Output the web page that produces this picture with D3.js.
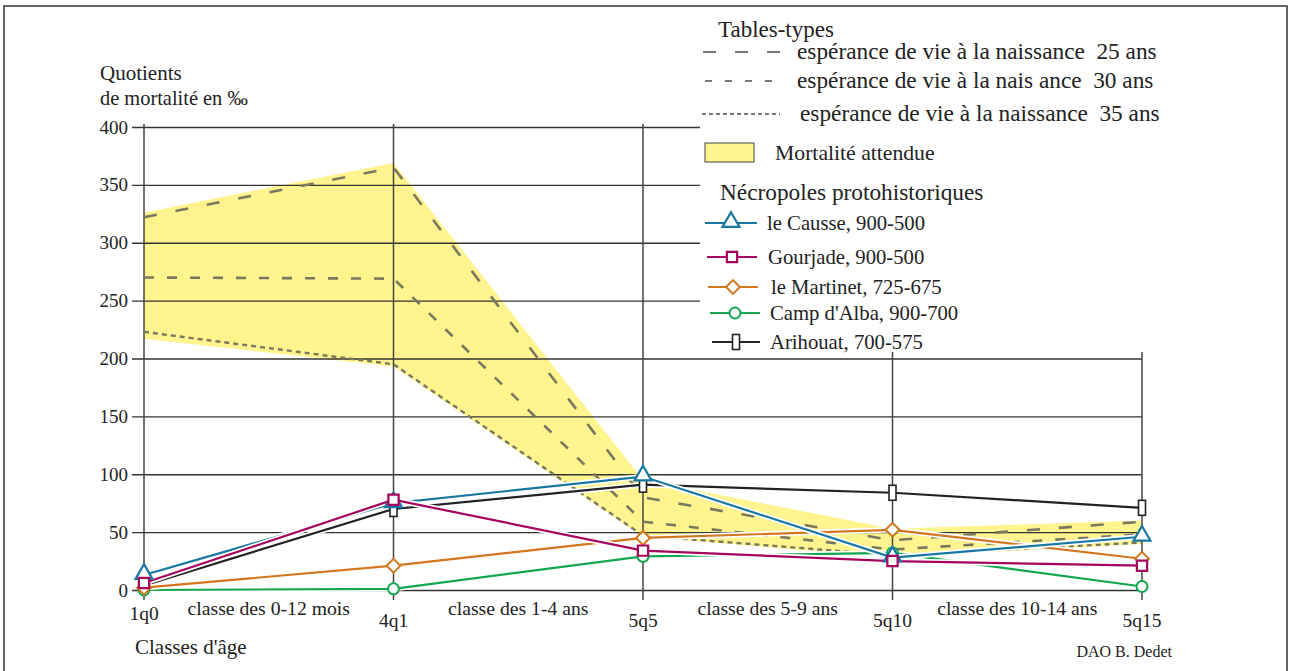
<!DOCTYPE html>
<html>
<head>
<meta charset="utf-8">
<script src="https://cdn.jsdelivr.net/npm/d3@7"></script>
<style>
  html, body { margin: 0; padding: 0; background: #fff; }
  svg { display: block; }
  text { font-family: "Liberation Serif", "Times New Roman", serif; fill: #222; white-space: pre; }
</style>
</head>
<body>
<svg id="chart" width="1290" height="671"></svg>
<script>
// ---------- data ----------
const categories = ["1q0", "4q1", "5q5", "5q10", "5q15"];
const classLabels = ["classe des 0-12 mois", "classe des 1-4 ans", "classe des 5-9 ans", "classe des 10-14 ans"];
const yTicks = [0, 50, 100, 150, 200, 250, 300, 350, 400];

const bandUpper = [326, 369, 95, 53, 60];
const bandLower = [217, 193, 46, 28, 40];

const esp25 = [322, 365, 80, 43, 59];
const esp30 = [270, 269, 59, 35, 48];
const esp35 = [223, 195, 47, 30, 41];

const causse   = [13, 75, 98, 28, 46];
const gourjade = [6, 78, 34, 25, 21];
const martinet = [2, 21, 45, 52, 27];
const alba     = [0, 1, 29, 32, 3];
const arihouat = [4, 70, 91, 84, 71];

const tableNames = ["espérance de vie à la naissance  25 ans", "espérance de vie à la nais ance  30 ans", "espérance de vie à la naissance  35 ans"];
const seriesNames = ["le Causse, 900-500", "Gourjade, 900-500", "le Martinet, 725-675", "Camp d'Alba, 900-700", "Arihouat, 700-575"];

// ---------- setup ----------
const svg = d3.select("#chart");
const x = d3.scalePoint().domain(categories).range([144, 1142]);
const y = d3.scaleLinear().domain([0, 400]).range([590, 127]);

const gridColor = "#333";
const tableColor = "#7a785f";
const yellow = "#fff48e";

// frame
svg.append("rect").attr("x", 4).attr("y", 6).attr("width", 1283).attr("height", 700)
  .attr("fill", "#fff").attr("stroke", "#333").attr("stroke-width", 1.5);

// band
const bandData = categories.map((c, i) => ({ c, lo: bandLower[i], hi: bandUpper[i] }));
svg.append("path").datum(bandData)
  .attr("d", d3.area().x(d => x(d.c)).y0(d => y(d.lo)).y1(d => y(d.hi)))
  .attr("fill", yellow);

// horizontal grid + tick labels
const yAxis = d3.axisLeft(y).tickValues(yTicks).tickSize(-(1142 - 132)).tickPadding(4).tickFormat(d3.format("d"));
const gy = svg.append("g").attr("transform", "translate(132,0)").call(yAxis);
gy.attr("font-family", null);
gy.select(".domain").remove();
gy.selectAll(".tick line").attr("stroke", gridColor).attr("stroke-width", 1.3);
gy.selectAll(".tick text").attr("font-size", 19).attr("font-family", "Liberation Serif").attr("fill", "#222");

// vertical lines
svg.append("g").selectAll("line").data(categories).join("line")
  .attr("x1", d => x(d)).attr("x2", d => x(d))
  .attr("y1", y(400) - 3).attr("y2", y(0) + 10)
  .attr("stroke", "#444").attr("stroke-width", 1.5);

// table-type lines
const lineGen = d3.line().x((d, i) => x(categories[i])).y(d => y(d));
const tables = [
  { data: esp25, dash: "13,19", w: 2.6, legDash: "13,19" },
  { data: esp30, dash: "10,13", w: 2.6, legDash: "7,13" },
  { data: esp35, dash: "5,4", w: 2.4, legDash: "4,3" }
];
tables.forEach(t => {
  svg.append("path").datum(t.data).attr("d", lineGen)
    .attr("fill", "none").attr("stroke", tableColor).attr("stroke-width", t.w)
    .attr("stroke-dasharray", t.dash);
});

// series
const series = [
  { data: arihouat, color: "#222222", marker: "rect" },
  { data: alba, color: "#12a650", marker: "circle" },
  { data: martinet, color: "#d3761e", marker: "diamond" },
  { data: causse, color: "#1878a2", marker: "triangle" },
  { data: gourjade, color: "#a6045c", marker: "square" }
];

function drawMarker(g, type, cx, cy, color) {
  if (type === "rect") {
    g.append("rect").attr("x", cx - 3.5).attr("y", cy - 7.5).attr("width", 7).attr("height", 15)
      .attr("fill", "#fff").attr("stroke", color).attr("stroke-width", 1.6);
  } else if (type === "circle") {
    g.append("circle").attr("cx", cx).attr("cy", cy).attr("r", 5.5)
      .attr("fill", "#fff").attr("stroke", color).attr("stroke-width", 2);
  } else if (type === "diamond") {
    g.append("path").attr("d", d3.symbol(d3.symbolSquare, 95)())
      .attr("transform", `translate(${cx},${cy}) rotate(45)`)
      .attr("fill", "#fff").attr("stroke", color).attr("stroke-width", 2);
  } else if (type === "triangle") {
    g.append("path").attr("d", d3.symbol(d3.symbolTriangle, 125)())
      .attr("transform", `translate(${cx},${cy - 1})`)
      .attr("fill", "#fff").attr("stroke", color).attr("stroke-width", 2.2);
  } else if (type === "square") {
    g.append("path").attr("d", d3.symbol(d3.symbolSquare, 105)())
      .attr("transform", `translate(${cx},${cy})`)
      .attr("fill", "#fff").attr("stroke", color).attr("stroke-width", 2.2);
  }
}

series.forEach(s => {
  svg.append("path").datum(s.data).attr("d", lineGen)
    .attr("fill", "none").attr("stroke", "#fff").attr("stroke-width", 5.5);
  svg.append("path").datum(s.data).attr("d", lineGen)
    .attr("fill", "none").attr("stroke", s.color).attr("stroke-width", 2.2);
});
series.forEach(s => {
  const g = svg.append("g");
  s.data.forEach((v, i) => drawMarker(g, s.marker, x(categories[i]), y(v), s.color));
});

// legend background
svg.append("rect").attr("x", 700).attr("y", 10).attr("width", 450).attr("height", 342).attr("fill", "#fff");

// helper for text
function label(tx, ty, str, size, anchor) {
  return svg.append("text").attr("x", tx).attr("y", ty).attr("font-size", size)
    .attr("text-anchor", anchor || "start").text(str);
}

// axis labels
svg.append("g").selectAll("text").data(categories).join("text")
  .attr("x", d => x(d)).attr("y", (d, i) => i === 0 ? 620 : 627)
  .attr("text-anchor", "middle").attr("font-size", 19.5).text(d => d);

svg.append("g").selectAll("text").data(classLabels).join("text")
  .attr("x", (d, i) => (x(categories[i]) + x(categories[i + 1])) / 2).attr("y", 615)
  .attr("text-anchor", "middle").attr("font-size", 19.7).text(d => d);

label(135, 654, "Classes d'âge", 21);
label(100, 80, "Quotients", 21);
label(100, 105, "de mortalité en ‰", 20.4);
label(1172, 657, "DAO B. Dedet", 16, "end");

// legend
label(718, 37, "Tables-types", 23);
const tableLeg = [
  { y: 52, tx: 797, x1: 703, x2: 780 },
  { y: 81, tx: 797, x1: 705, x2: 772 },
  { y: 114, tx: 800, x1: 702, x2: 780 }
];
tables.forEach((t, i) => {
  const L = tableLeg[i];
  svg.append("line").attr("x1", L.x1).attr("x2", L.x2).attr("y1", L.y).attr("y2", L.y)
    .attr("stroke", "#777").attr("stroke-width", 2).attr("stroke-dasharray", t.legDash);
  label(L.tx, L.y + 7, tableNames[i], 23.3);
});

svg.append("rect").attr("x", 705).attr("y", 143).attr("width", 49).attr("height", 19)
  .attr("fill", yellow).attr("stroke", "#444").attr("stroke-width", 1);
label(775, 160, "Mortalité attendue", 21.7);
label(720, 200, "Nécropoles protohistoriques", 23.3);

const legOrder = [3, 4, 2, 1, 0]; // causse, gourjade, martinet, alba, arihouat
const legRows = [
  { y: 223, x1: 705, x2: 757, tx: 767 },
  { y: 257, x1: 707, x2: 757, tx: 768 },
  { y: 287, x1: 708, x2: 758, tx: 771 },
  { y: 313, x1: 710, x2: 760, tx: 770 },
  { y: 342, x1: 712, x2: 760, tx: 770 }
];
legOrder.forEach((si, r) => {
  const s = series[si], L = legRows[r];
  const g = svg.append("g");
  g.append("line").attr("x1", L.x1).attr("x2", L.x2).attr("y1", L.y).attr("y2", L.y)
    .attr("stroke", s.color).attr("stroke-width", 2.2);
  drawMarker(g, s.marker, (L.x1 + L.x2) / 2, L.y, s.color);
  label(L.tx, L.y + 7, seriesNames[r], 20.7);
});
</script>
</body>
</html>
